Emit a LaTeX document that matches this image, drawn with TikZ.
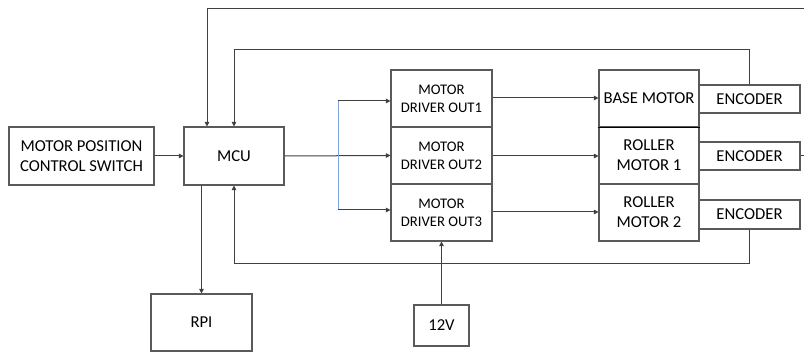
\documentclass[tikz,border=0pt]{standalone}
\usepackage{fontspec}
\setmainfont{Carlito}
\usetikzlibrary{arrows.meta}
\definecolor{boxc}{HTML}{5A5A5A}
\definecolor{linec}{HTML}{404040}
\definecolor{bluec}{HTML}{7FA7DC}
\begin{document}
\begin{tikzpicture}[x=0.75pt,y=-0.75pt,
  box/.style={draw=boxc, line width=0.8pt, rectangle, inner sep=0pt, align=center,
    font=\fontsize{12.5}{15}\selectfont, text=black},
  smallbox/.style={box, font=\fontsize{11}{13.5}\selectfont},
  conn/.style={draw=linec, line width=0.75pt},
  arr/.style={conn, -{Triangle[length=3.5pt,width=3.5pt]}},
  blueline/.style={draw=bluec, line width=0.75pt}]
\useasboundingbox (0,0) rectangle (804,352);
\clip (0,0) rectangle (804,352);
% nodes
\node[box, minimum width=145*0.75pt, minimum height=58*0.75pt] (sw) at (81.5,156) {MOTOR POSITION\\CONTROL SWITCH};
\node[box, minimum width=100*0.75pt, minimum height=58*0.75pt] (mcu) at (234,156) {MCU};
\node[box, minimum width=101*0.75pt, minimum height=57*0.75pt] (rpi) at (201.5,322.5) {RPI};
\node[smallbox, minimum width=101*0.75pt, minimum height=57*0.75pt] (d1) at (441.5,98.5) {MOTOR\\DRIVER OUT1};
\node[smallbox, minimum width=101*0.75pt, minimum height=57*0.75pt] (d2) at (441.5,155.5) {MOTOR\\DRIVER OUT2};
\node[smallbox, minimum width=101*0.75pt, minimum height=57*0.75pt] (d3) at (441.5,212.5) {MOTOR\\DRIVER OUT3};
\node[box, minimum width=100*0.75pt, minimum height=57*0.75pt] (m1) at (649,98.5) {BASE MOTOR};
\node[box, minimum width=100*0.75pt, minimum height=57*0.75pt] (m2) at (649,155.5) {ROLLER\\MOTOR 1};
\node[box, minimum width=100*0.75pt, minimum height=57*0.75pt] (m3) at (649,212.5) {ROLLER\\MOTOR 2};
\node[box, minimum width=101*0.75pt, minimum height=28*0.75pt] (e1) at (749.5,99) {ENCODER};
\node[box, minimum width=101*0.75pt, minimum height=28*0.75pt] (e2) at (749.5,156) {ENCODER};
\node[box, minimum width=101*0.75pt, minimum height=29*0.75pt] (e3) at (749.5,214.5) {ENCODER};
\node[box, minimum width=55*0.75pt, minimum height=41*0.75pt] (v12) at (441.5,325.5) {12V};
\draw[black, line width=1.2pt] (m1.south west) -- (m1.south east);
% coordinates
\coordinate (bj1) at (338,101);
\coordinate (bj3) at (338,210);
\coordinate (topr) at (812,9);
\coordinate (topl) at (207,9);
\coordinate (midl) at (234,50);
\coordinate (botl) at (234,264);
% connectors
\draw[arr] (sw.east) -- (mcu.west);
\draw[arr] (mcu.east) -- (d2.west);
\draw[blueline] (bj1) -- (bj3);
\draw[arr] (bj1) -- (bj1 -| d1.west);
\draw[arr] (bj3) -- (bj3 -| d3.west);
\draw[arr] (d1.east |- 0,98) -- (m1.west |- 0,98);
\draw[arr] (d2.east |- 0,156) -- (m2.west |- 0,156);
\draw[arr] (d3.east |- 0,212) -- (m3.west |- 0,212);
\draw[arr] (e1.north) |- (midl) -- (midl |- mcu.north);
\draw[arr] (e3.south) |- (botl) -- (botl |- mcu.south);
\draw[arr] (e2.east) -| (topr) -- (topl) -- (topl |- mcu.north);
\draw[arr] (mcu.south -| rpi.north) -- (rpi.north);
\draw[arr] (v12.north) -- (d3.south);
\end{tikzpicture}
\end{document}
